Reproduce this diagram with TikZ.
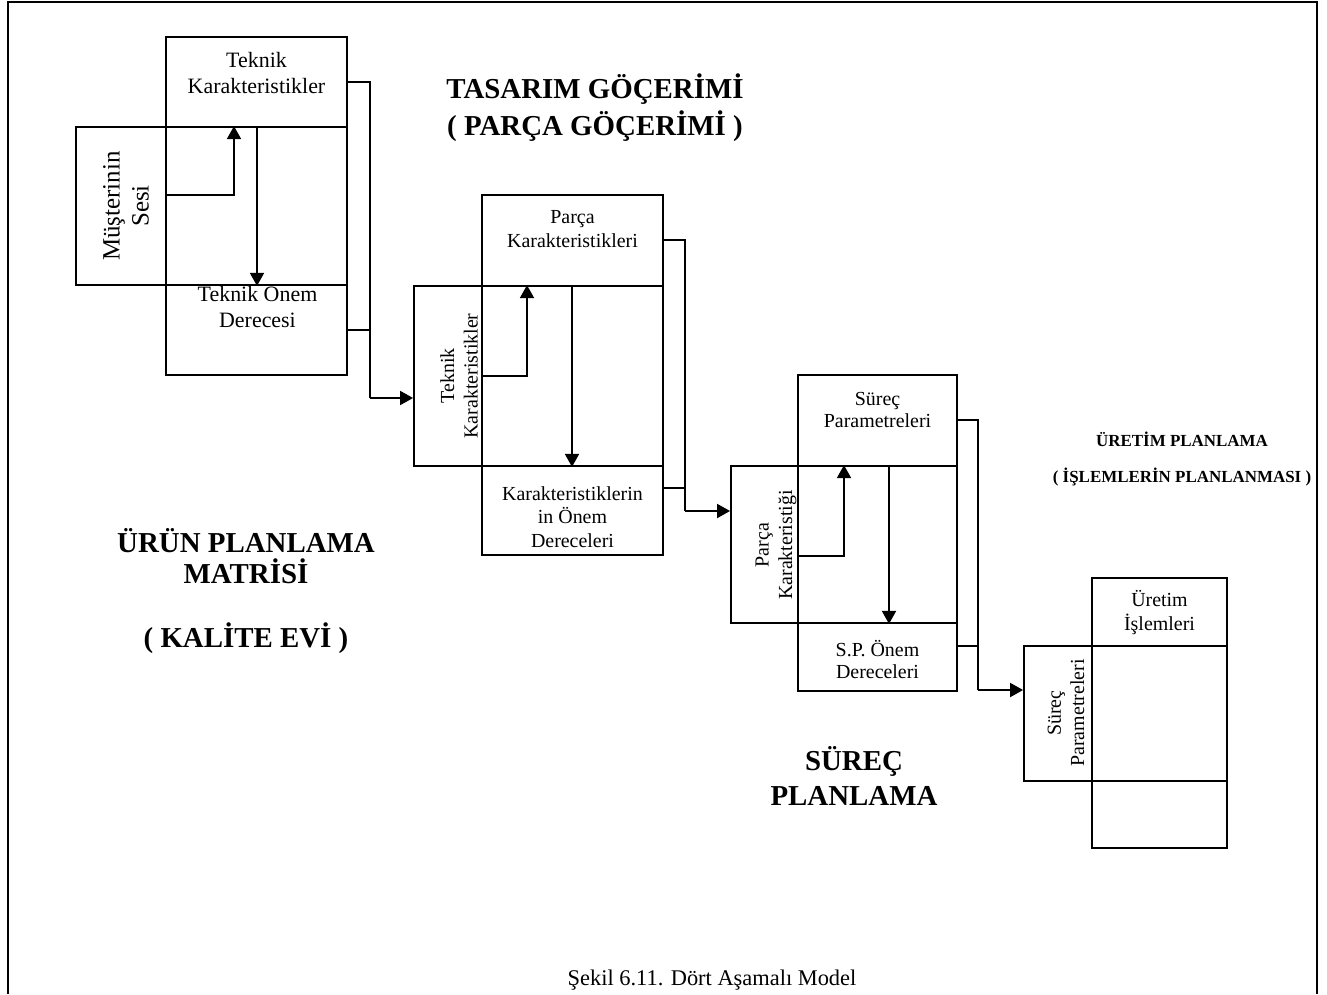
\documentclass[tikz,border=0pt]{standalone}
\usepackage{fontspec}
\setmainfont{Liberation Serif}
\usetikzlibrary{arrows.meta, calc, positioning}

\begin{document}
\begin{tikzpicture}[x=1bp, y=-1bp,
    kutu/.style={draw, line width=1.8bp, inner sep=0pt},
    hat/.style={line width=1.8bp},
    ok/.style={hat, -{Triangle[length=13bp, width=14bp]}},
    yazi/.style={font=\fontsize{20}{23.5}\selectfont, align=center, inner sep=0pt},
    baslik/.style={font=\bfseries\fontsize{29}{36}\selectfont, align=center, inner sep=0pt}]
    \useasboundingbox (0,0) rectangle (1327,994);

    % cerceve
    \draw[line width=1.8bp] (8,994) -- (8,2) -- (1317,2) -- (1317,994);

    % 1. asama: urun planlama matrisi
    \node[kutu, minimum width=181bp, minimum height=90bp]  (tk1) at (256.5,82) {};
    \node[kutu, minimum width=181bp, minimum height=158bp] (or1) at (256.5,206) {};
    \node[kutu, minimum width=90bp,  minimum height=158bp] (ms1) at (121,206) {};
    \node[kutu, minimum width=181bp, minimum height=90bp]  (tv1) at (256.5,330) {};
    \node[yazi, font=\fontsize{22}{26}\selectfont, anchor=base] (tk1y) at (256.5,93) {Teknik\\Karakteristikler};
    \node[yazi, font=\fontsize{22}{26}\selectfont, anchor=base] (tv1y) at (257.5,327) {Teknik Onem\\Derecesi};
    \node[yazi, font=\fontsize{25}{29}\selectfont, rotate=90] (ms1y) at (126,206) {Müşterinin\\Sesi};

    % 2. asama: tasarim gocerimi
    \node[kutu, minimum width=181bp, minimum height=91bp]  (tk2) at (572.5,240.5) {};
    \node[kutu, minimum width=181bp, minimum height=180bp] (or2) at (572.5,376) {};
    \node[kutu, minimum width=68bp,  minimum height=180bp] (ms2) at (448,376) {};
    \node[kutu, minimum width=181bp, minimum height=89bp]  (tv2) at (572.5,510.5) {};
    \node[yazi, anchor=base] (tk2y) at (572.5,247) {Parça\\Karakteristikleri};
    \node[yazi, anchor=base] (tv2y) at (572.5,547) {Karakteristiklerin\\in Önem\\Dereceleri};
    \node[yazi, rotate=90] (ms2y) at (459,376) {Teknik\\Karakteristikler};

    % 3. asama: surec planlama
    \node[kutu, minimum width=159bp, minimum height=91bp]  (tk3) at (877.5,420.5) {};
    \node[kutu, minimum width=159bp, minimum height=157bp] (or3) at (877.5,544.5) {};
    \node[kutu, minimum width=67bp,  minimum height=157bp] (ms3) at (764.5,544.5) {};
    \node[kutu, minimum width=159bp, minimum height=68bp]  (tv3) at (877.5,657) {};
    \node[yazi, font=\fontsize{20}{22}\selectfont, anchor=base] (tk3y) at (877.5,427) {Süreç\\Parametreleri};
    \node[yazi, font=\fontsize{20}{21.5}\selectfont, anchor=base] (tv3y) at (877.5,678) {S.P. Önem\\Dereceleri};
    \node[yazi, rotate=90] (ms3y) at (776,545) {Parça\\Karakteristiği};

    % 4. asama: uretim planlama
    \node[kutu, minimum width=135bp, minimum height=68bp]  (tk4) at (1159.5,612) {};
    \node[kutu, minimum width=135bp, minimum height=135bp] (or4) at (1159.5,713.5) {};
    \node[kutu, minimum width=68bp,  minimum height=135bp] (ms4) at (1058,713.5) {};
    \node[kutu, minimum width=135bp, minimum height=67bp]  (tv4) at (1159.5,814.5) {};
    \node[yazi, anchor=base] (tk4y) at (1159.5,630) {Üretim\\İşlemleri};
    \node[yazi, rotate=90] (ms4y) at (1066,713) {Süreç\\Parametreleri};

    % ic oklar
    \draw[ok] ([yshift=11bp]ms1.east) -| ([xshift=-22.5bp]or1.north);
    \draw[ok] ([xshift=0.5bp]or1.north) -- ([xshift=0.5bp]or1.south);
    \draw[ok] (ms2.east) -| ([xshift=-45.5bp]or2.north);
    \draw[ok] ([xshift=-0.5bp]or2.north) -- ([xshift=-0.5bp]or2.south);
    \draw[ok] ([yshift=-11.5bp]ms3.east) -| ([xshift=-33.5bp]or3.north);
    \draw[ok] ([xshift=11.5bp]or3.north) -- ([xshift=11.5bp]or3.south);

    % asamalar arasi baglantilar
    \coordinate (d1) at (370,398);
    \draw[hat] (tk1.east) -| (d1);
    \draw[hat] (tv1.east) -- (tv1.east -| d1);
    \draw[ok] (d1) -- (d1 -| ms2.west);

    \coordinate (d2) at (685,511);
    \draw[hat] ([yshift=0.5bp]tk2.east) -| (d2);
    \draw[hat] ([yshift=22.5bp]tv2.east) -- ([yshift=22.5bp]tv2.east -| d2);
    \draw[ok] (d2) -- (d2 -| ms3.west);

    \coordinate (d3) at (978,690);
    \draw[hat] ([yshift=0.5bp]tk3.east) -| (d3);
    \draw[hat] ([yshift=11bp]tv3.east) -- ([yshift=11bp]tv3.east -| d3);
    \draw[ok] (d3) -- (d3 -| ms4.west);

    % basliklar
    \node[baslik, font=\bfseries\fontsize{29}{37}\selectfont, anchor=base] (b2) at (595,135) {TASARIM GÖÇERİMİ\\( PARÇA GÖÇERİMİ )};
    \node[baslik, font=\bfseries\fontsize{29}{31}\selectfont, anchor=base] (b1) at (246,647) {ÜRÜN PLANLAMA\\MATRİSİ\\[33pt]( KALİTE EVİ )};
    \node[baslik, font=\bfseries\fontsize{29}{35}\selectfont, anchor=base] (b3) at (854,805) {SÜREÇ\\PLANLAMA};
    \node[baslik, font=\bfseries\fontsize{17}{36}\selectfont, anchor=base] (b4) at (1182,482) {ÜRETİM PLANLAMA\\( İŞLEMLERİN PLANLANMASI )};

    % sekil adi
    \node[yazi, font=\fontsize{22.5}{27}\selectfont, anchor=base] (ad) at (712,985) {Şekil 6.11. Dört Aşamalı Model};
\end{tikzpicture}
\end{document}
